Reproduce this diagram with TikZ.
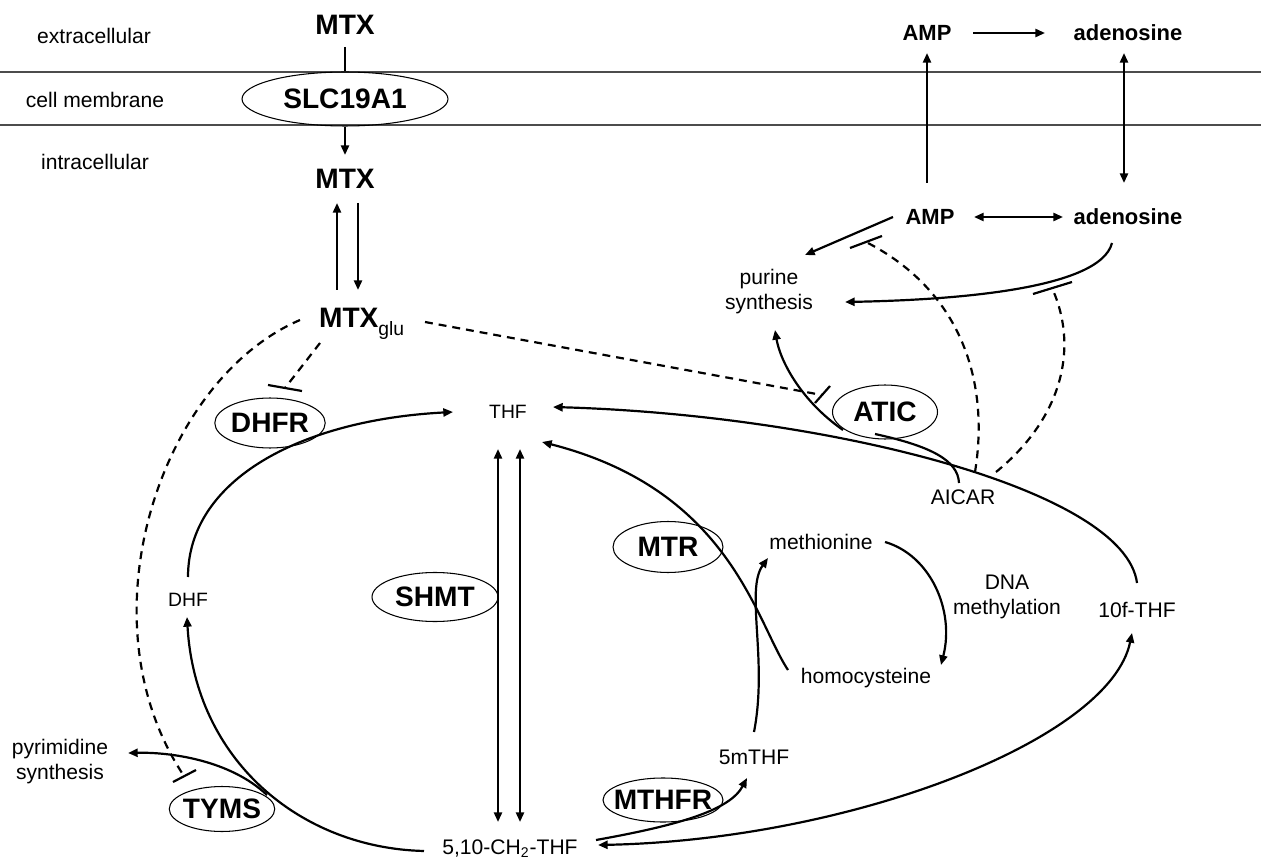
\documentclass[tikz,border=0pt]{standalone}
\usepackage{fontspec}
\setmainfont{Liberation Sans}
\usetikzlibrary{shapes.geometric, arrows.meta, calc}

\tikzset{
  zone/.style={font=\fontsize{12}{14}\selectfont, inner sep=0pt},
  drug/.style={font=\fontsize{16}{18}\selectfont\bfseries, inner sep=0pt},
  nucl/.style={font=\fontsize{12.5}{15}\selectfont\bfseries, inner sep=0pt},
  metab/.style={font=\fontsize{12}{14.2}\selectfont, inner sep=0pt, align=center},
  folate/.style={font=\fontsize{11}{13}\selectfont, inner sep=0pt},
  enzyme/.style={draw, ellipse, line width=0.6pt, font=\fontsize{16}{18}\selectfont\bfseries, inner sep=0pt},
  membrane/.style={line width=0.6pt, black!70},
  inhib/.style={dash pattern=on 4.5pt off 3.4pt},
}

\begin{document}
\begin{tikzpicture}[x=0.02cm, y=-0.02cm, line width=1.25pt, >={Triangle[length=5.5pt,width=4.6pt]}]
        \useasboundingbox (0,0) rectangle (1261,861);

        % Compartments
        \node[zone] (extra) at (94,36) {extracellular};
        \node[zone] (memb) at (95,100) {cell membrane};
        \node[zone] (intra) at (95,162) {intracellular};
        \draw[membrane] (0,72) -- (1261,72);
        \draw[membrane] (0,125) -- (1261,125);

        % MTX uptake
        \node[drug] (mtxout) at (345,25) {MTX};
        \node[enzyme, minimum width=4.12cm, minimum height=1.08cm] (slc) at (345,99) {SLC19A1};
        \node[drug] (mtxin) at (345,179) {MTX};
        \node[drug, anchor=base west] (mtxglu) at (318,328) {MTX\raisebox{-4.5pt}{\fontsize{11}{13}\selectfont\mdseries glu}};

        % Adenosine side
        \node[nucl] (amp1) at (927,33) {AMP};
        \node[nucl] (ado1) at (1128,33) {adenosine};
        \node[nucl] (amp2) at (930,217) {AMP};
        \node[nucl] (ado2) at (1128,217) {adenosine};
        \node[metab] (purine) at (769,292) {purine\\synthesis};

        % Folate cycle
        \node[folate] (thf) at (508,412) {THF};
        \node[folate] (dhf) at (188,600) {DHF};
        \node[metab] (ch2) at (510,849) {5,10-CH\textsubscript{2}-THF};
        \node[metab] (mthf5) at (754,757) {5mTHF};
        \node[metab] (met) at (821,542) {methionine};
        \node[metab] (hcy) at (866,678) {homocysteine};
        \node[metab] (dna) at (1007,597) {DNA\\methylation};
        \node[metab] (f10) at (1137,610) {10f-THF};
        \node[metab] (aicar) at (963,497) {AICAR};
        \node[metab] (pyr) at (60,762) {pyrimidine\\synthesis};

        % Enzymes
        \node[enzyme, minimum width=2.12cm, minimum height=1cm] (dhfr) at (270,423) {DHFR};
        \node[enzyme, minimum width=2.52cm, minimum height=0.98cm] (shmt) at (435,597) {SHMT};
        \node[enzyme, minimum width=2.2cm, minimum height=1.02cm] (mtr) at (668,547) {MTR};
        \node[enzyme, minimum width=2.1cm, minimum height=1.08cm] (atic) at (885,412) {ATIC};
        \node[enzyme, minimum width=2.4cm, minimum height=0.88cm, inner xsep=-4pt] (mthfr) at (663,800) {MTHFR};
        \node[enzyme, minimum width=2.1cm, minimum height=0.9cm, inner xsep=-1pt] (tyms) at (222,809) {TYMS};

        % Transport arrows
        \draw ($(mtxout)+(0,22)$) -- (slc.north);
        \draw[->] (slc.south) -- ($(mtxin)+(0,-24)$);
        \draw[->] ($(mtxglu.base west)+(19,-38)$) -- ($(mtxin)+(-8,24)$);
        \draw[->] ($(mtxin)+(13,24)$) -- ($(mtxglu.base west)+(40,-38)$);
        \draw[->] ($(amp1)+(46,0)$) -- ($(ado1)+(-83,0)$);
        \draw[->] ($(amp2)+(-3,-34)$) -- ($(amp1)+(0,20)$);
        \draw[<->] ($(ado1)+(-4,20)$) -- ($(ado2)+(-4,-34)$);
        \draw[<->] ($(amp2)+(44,0)$) -- ($(ado2)+(-65,0)$);

        % Purine synthesis
        \draw[->] ($(amp2)+(-37,0)$) -- ($(purine)+(36,-37)$);
        \draw[->] ($(ado2)+(-16,26)$) .. controls (1100,290) and (950,300) .. ($(purine)+(76,10)$);
        \draw[->] ($(atic)+(-42,18)$) .. controls (800,400) and (780,360) .. ($(purine)+(6,38)$);

        % Folate reactions
        \draw[->] ($(f10)+(0,-27)$) .. controls (1125,490) and (830,415) .. ($(thf)+(45,-5)$);
        \draw ($(aicar)+(-4,-14)$) .. controls (958,460) and (930,446) .. ($(atic)+(-10,22)$);
        \draw[->] ($(dhf)+(0,-23)$) .. controls (188,480) and (300,420) .. ($(thf)+(-55,0)$);
        \draw[->] ($(ch2)+(-86,2)$) .. controls (300,848) and (195,760) .. ($(dhf)+(-1,17)$);
        \draw[->] ($(tyms)+(45,-14)$) .. controls (230,760) and (170,752) .. ($(pyr)+(68,-9)$);
        \draw[<->] ($(thf)+(-10,37)$) -- ($(ch2)+(-12,-27)$);
        \draw[<->] ($(thf)+(12,37)$) -- ($(ch2)+(10,-27)$);
        \draw[->] ($(hcy)+(-78,-8)$) .. controls (755,620) and (730,490) .. ($(thf)+(34,30)$);
        \draw[->] ($(mthf5)+(0,-25)$) .. controls (768,660) and (745,590) .. ($(met)+(-53,16)$);
        \draw[->] ($(met)+(64,0)$) .. controls (930,555) and (955,610) .. ($(hcy)+(75,-13)$);
        \draw[->] ($(ch2)+(86,-9)$) .. controls (680,825) and (730,810) .. ($(mthf5)+(-7,21)$);
        \draw[<->] ($(ch2)+(88,-4)$) .. controls (850,840) and (1110,740) .. ($(f10)+(-5,23)$);

        % Inhibition
        \coordinate (barAMP) at (866,242);
        \coordinate (barADO) at (1052,288);
        \coordinate (barATIC) at (822,395);
        \coordinate (barDHFR) at (285,388);
        \coordinate (barTYMS) at (184,776);
        \draw ($(barAMP)+(-16,6)$) -- ($(barAMP)+(16,-6)$);
        \draw ($(barADO)+(-19,6)$) -- ($(barADO)+(20,-6)$);
        \draw ($(barATIC)+(-7,8)$) -- ($(barATIC)+(8,-9)$);
        \draw ($(barDHFR)+(-17,-3)$) -- ($(barDHFR)+(17,3)$);
        \draw ($(barTYMS)+(-11,6)$) -- ($(barTYMS)+(12,-6)$);
        \draw[inhib] ($(aicar)+(12,-25)$) .. controls (990,380) and (960,290) .. (barAMP);
        \draw[inhib] ($(aicar)+(33,-25)$) .. controls (1060,420) and (1080,350) .. (barADO);
        \draw[inhib] ($(mtxglu.base west)+(107,-6)$) -- (barATIC);
        \draw[inhib] ($(mtxglu.base west)+(2,15)$) -- (barDHFR);
        \draw[inhib] ($(mtxglu.base west)+(-18,-8)$) .. controls (160,380) and (80,620) .. (barTYMS);
    \end{tikzpicture}
\end{document}
